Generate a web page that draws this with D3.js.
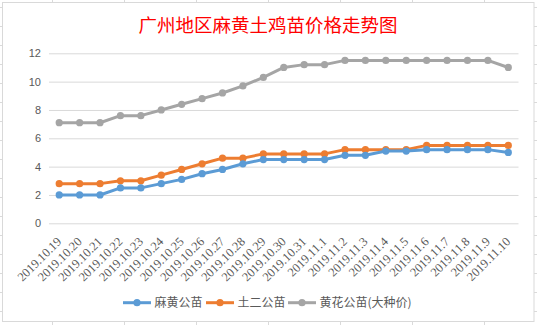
<!DOCTYPE html>
<html><head><meta charset="utf-8">
<script src="https://cdn.jsdelivr.net/npm/d3@7"></script>
<style>html,body{margin:0;padding:0;background:#fff;}svg{display:block;}</style>
</head><body>
<svg id="c" width="537" height="325"></svg>
<script>
const title = "广州地区麻黄土鸡苗价格走势图";
const categories = ["2019.10.19","2019.10.20","2019.10.21","2019.10.22","2019.10.23","2019.10.24","2019.10.25","2019.10.26","2019.10.27","2019.10.28","2019.10.29","2019.10.30","2019.10.31","2019.11.1","2019.11.2","2019.11.3","2019.11.4","2019.11.5","2019.11.6","2019.11.7","2019.11.8","2019.11.9","2019.11.10"];
const seriesNames = ["麻黄公苗","土二公苗","黄花公苗(大种价)"];
const mahuang = [2.0,2.0,2.0,2.5,2.5,2.8,3.1,3.5,3.8,4.2,4.5,4.5,4.5,4.5,4.8,4.8,5.1,5.1,5.2,5.2,5.2,5.2,5.0];
const tuer = [2.8,2.8,2.8,3.0,3.0,3.4,3.8,4.2,4.6,4.6,4.9,4.9,4.9,4.9,5.2,5.2,5.2,5.2,5.5,5.5,5.5,5.5,5.5];
const huanghua = [7.1,7.1,7.1,7.6,7.6,8.0,8.4,8.8,9.2,9.7,10.3,11.0,11.2,11.2,11.5,11.5,11.5,11.5,11.5,11.5,11.5,11.5,11.0];
const yTicks = [0,2,4,6,8,10,12];
const colors = ["#5B9BD5","#ED7D31","#A5A5A5"];

const svg = d3.select("#c");
// spreadsheet background grid
const bg = svg.append("g");
d3.range(7).forEach(i => bg.append("line").attr("x1",52.5+72*i).attr("x2",52.5+72*i).attr("y1",0).attr("y2",325).attr("stroke","#DADADA"));
d3.range(17).forEach(i => bg.append("line").attr("y1",7.5+19*i).attr("y2",7.5+19*i).attr("x1",0).attr("x2",537).attr("stroke","#DADADA"));
svg.append("rect").attr("x",2.5).attr("y",2.5).attr("width",531.5).attr("height",319).attr("fill","#fff").attr("stroke","#D9D9D9");

const x = d3.scaleBand().domain(categories).range([49,518.5]);
const y = d3.scaleLinear().domain([0,12]).range([223.3,53.3]);

svg.append("text").attr("x",268).attr("y",32).attr("text-anchor","middle")
  .attr("font-family","Noto Sans CJK SC").attr("font-size",18.5).attr("fill","#FF0000").text(title);

// gridlines
const yAxis = d3.axisLeft(y).tickValues(yTicks).tickSize(-(518.5-49)).tickPadding(8);
const gy = svg.append("g").attr("transform","translate(49,0)").call(yAxis);
gy.select(".domain").remove();
gy.selectAll(".tick line").attr("stroke","#D9D9D9").attr("stroke-width",1);
gy.selectAll(".tick text").attr("fill","#595959").attr("font-family","Liberation Sans").attr("font-size",11).attr("dx",0);

const xAxis = d3.axisBottom(x).tickSize(0).tickPadding(0);
const gx = svg.append("g").attr("transform","translate(0,223.3)").call(xAxis);
gx.select(".domain").remove();
gx.selectAll(".tick text").attr("fill","#595959").attr("font-family","Liberation Serif").attr("font-size",12.5)
  .attr("text-anchor","end").attr("dy",0).attr("y",0)
  .attr("transform","translate(3,19) rotate(-45)");

const data = [mahuang, tuer, huanghua];
const line = d3.line().x((d,i)=>x(categories[i])+x.bandwidth()/2).y(d=>y(d));
[2,1,0].forEach(k => {
  const g = svg.append("g");
  g.append("path").datum(data[k]).attr("d",line).attr("fill","none").attr("stroke",colors[k]).attr("stroke-width",3).attr("stroke-linejoin","round");
  g.selectAll("circle").data(data[k]).enter().append("circle")
    .attr("cx",(d,i)=>x(categories[i])+x.bandwidth()/2).attr("cy",d=>y(d)).attr("r",3.6).attr("fill",colors[k]);
});

// legend
const legX = [123,206,288];
const lg = svg.append("g");
seriesNames.forEach((n,k)=>{
  const lx = legX[k], ly = 302.7;
  lg.append("line").attr("x1",lx).attr("x2",lx+28).attr("y1",ly).attr("y2",ly).attr("stroke",colors[k]).attr("stroke-width",3);
  lg.append("circle").attr("cx",lx+14).attr("cy",ly).attr("r",3.6).attr("fill",colors[k]);
  lg.append("text").attr("x",lx+31.5).attr("y",ly+4.3).attr("font-family","Noto Sans CJK SC").attr("font-size",12).attr("fill","#595959").text(n);
});
</script>
</body></html>
